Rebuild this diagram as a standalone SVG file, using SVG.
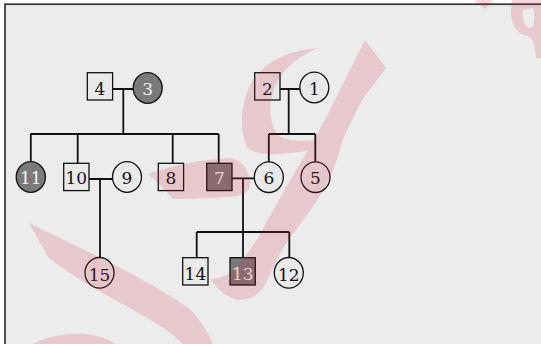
<svg xmlns="http://www.w3.org/2000/svg" width="541" height="344" viewBox="0 0 541 344">
<style>
.lt{fill:#e9e9e9;stroke:#111;stroke-width:1.3}
.dk{fill:#7a7a7a;stroke:#111;stroke-width:1.3}
.t{font-family:"DejaVu Serif","Liberation Serif",serif;font-size:17px;text-anchor:middle;fill:#111}
.tw{fill:#f4f4f4}
.c{fill:none;stroke:#111;stroke-width:1.8}
</style>
<rect x="0" y="0" width="541" height="344" fill="#ffffff"/>
<rect x="5" y="4.2" width="600" height="400" fill="#ececec" stroke="#3c3c3c" stroke-width="1.8"/>
<g id="connectors" class="c">
<path d="M112.7,89 H133.2 M123.3,89 V134 M30.3,134 H218.7 M30.8,134 V161.7 M77.7,134 V163.3 M172.7,134 V163.3 M218.7,134 V163.3"/>
<path d="M280,89 H300 M288.7,89 V134 M268.8,134 H315.3 M268.8,134 V161.7 M315.3,134 V161.7"/>
<path d="M89,179 H112.5 M100,179 V257.3"/>
<path d="M232,178.3 H254.3 M243,178.3 V257.7 M196.7,232 H289.3 M196.7,232 V257.7 M289.3,232 V257.3"/>
</g>
<g id="n4"><rect class="lt" x="87.3" y="72.7" width="25.3" height="27.3"/><text class="t" x="100" y="94.5">4</text></g>
<g id="n3"><ellipse class="dk" cx="147.7" cy="88" rx="14.5" ry="15.3"/><text class="t tw" x="147.7" y="94.5">3</text></g>
<g id="n2"><rect class="lt" x="254.7" y="72.7" width="25.3" height="27.3"/><text class="t" x="267.3" y="94.5">2</text></g>
<g id="n1"><ellipse class="lt" cx="314.3" cy="87.5" rx="14.5" ry="15.3"/><text class="t" x="314.3" y="94.5">1</text></g>
<g id="n11"><ellipse class="dk" cx="30.8" cy="177" rx="14.6" ry="15.3"/><text class="t tw" x="30.8" y="183.5">11</text></g>
<g id="n10"><rect class="lt" x="63.7" y="163.3" width="25.3" height="27.3"/><text class="t" x="76.3" y="183.5">10</text></g>
<g id="n9"><ellipse class="lt" cx="127" cy="177" rx="14.5" ry="15.3"/><text class="t" x="127" y="183.5">9</text></g>
<g id="n8"><rect class="lt" x="158.3" y="163.3" width="25.3" height="27.3"/><text class="t" x="171" y="183.5">8</text></g>
<g id="n7"><rect class="dk" x="206.7" y="163.3" width="25.3" height="27.3"/><text class="t tw" x="219.3" y="183.5">7</text></g>
<g id="n6"><ellipse class="lt" cx="268.8" cy="177.2" rx="14.5" ry="15.3"/><text class="t" x="268.8" y="183.5">6</text></g>
<g id="n5"><ellipse class="lt" cx="315.5" cy="177.2" rx="14.5" ry="15.3"/><text class="t" x="315.5" y="183.5">5</text></g>
<g id="n15"><ellipse class="lt" cx="99.5" cy="272.8" rx="14.5" ry="15.3"/><text class="t" x="99.5" y="280.5">15</text></g>
<g id="n14"><rect class="lt" x="182.7" y="257.7" width="25.3" height="27.3"/><text class="t" x="195.4" y="280">14</text></g>
<g id="n13"><rect class="dk" x="230" y="257.7" width="25.3" height="27.3"/><text class="t tw" x="242.7" y="280">13</text></g>
<g id="n12"><ellipse class="lt" cx="288.8" cy="272.8" rx="14.5" ry="15.3"/><text class="t" x="288.8" y="280.5">12</text></g>
<g id="watermark" opacity="0.17" fill="#d21e3c" fill-rule="evenodd">
<path d="M29,223 C80,248 140,275 187,307 C198,316 207,330 213,344 L183,344 C170,330 150,320 130,308 C100,292 70,275 48,257 Z"/>
<path d="M33,344 C50,335 70,333 85,334 C100,336 110,340 115,344 Z"/>
<path d="M365,40 L386,68 C375,82 366,95 362,100 C352,120 346,132 343,140 C338,155 334,170 328,182 C320,196 314,205 307,215 C298,227 292,235 285,245 C277,258 272,270 266,283 C260,294 252,300 240,300 C228,299 218,290 210,279 C220,278 230,275 236,268 C244,258 250,250 258,238 C265,225 272,212 280,198 C288,184 296,170 305,155 C315,138 325,120 335,100 C345,80 355,60 365,40 Z"/>
<path d="M318,48 C290,50 262,62 250,85 C240,105 240,135 247,147 C255,156 275,155 300,152 L312,149 L318,140 C300,141 285,141 278,135 C268,122 268,98 278,80 C287,65 300,56 318,48 Z"/>
<path d="M148,174 C170,166 200,160 228,158 C240,158 248,168 250,180 C252,190 245,196 230,197 C210,198 190,199 173,199 C165,190 157,181 148,174 Z"/>
<path d="M474,0 L493,0 C490,4 487,7 485,9 C481,6 477,3 474,0 Z"/>
<path d="M512,0 C509,15 512,33 527,36 C533,37 535,45 536,58 L541,58 L541,0 Z M523,10 C522,20 525,28 531,28 C535,27 535,15 533,8 Z"/>
</g>
</svg>
